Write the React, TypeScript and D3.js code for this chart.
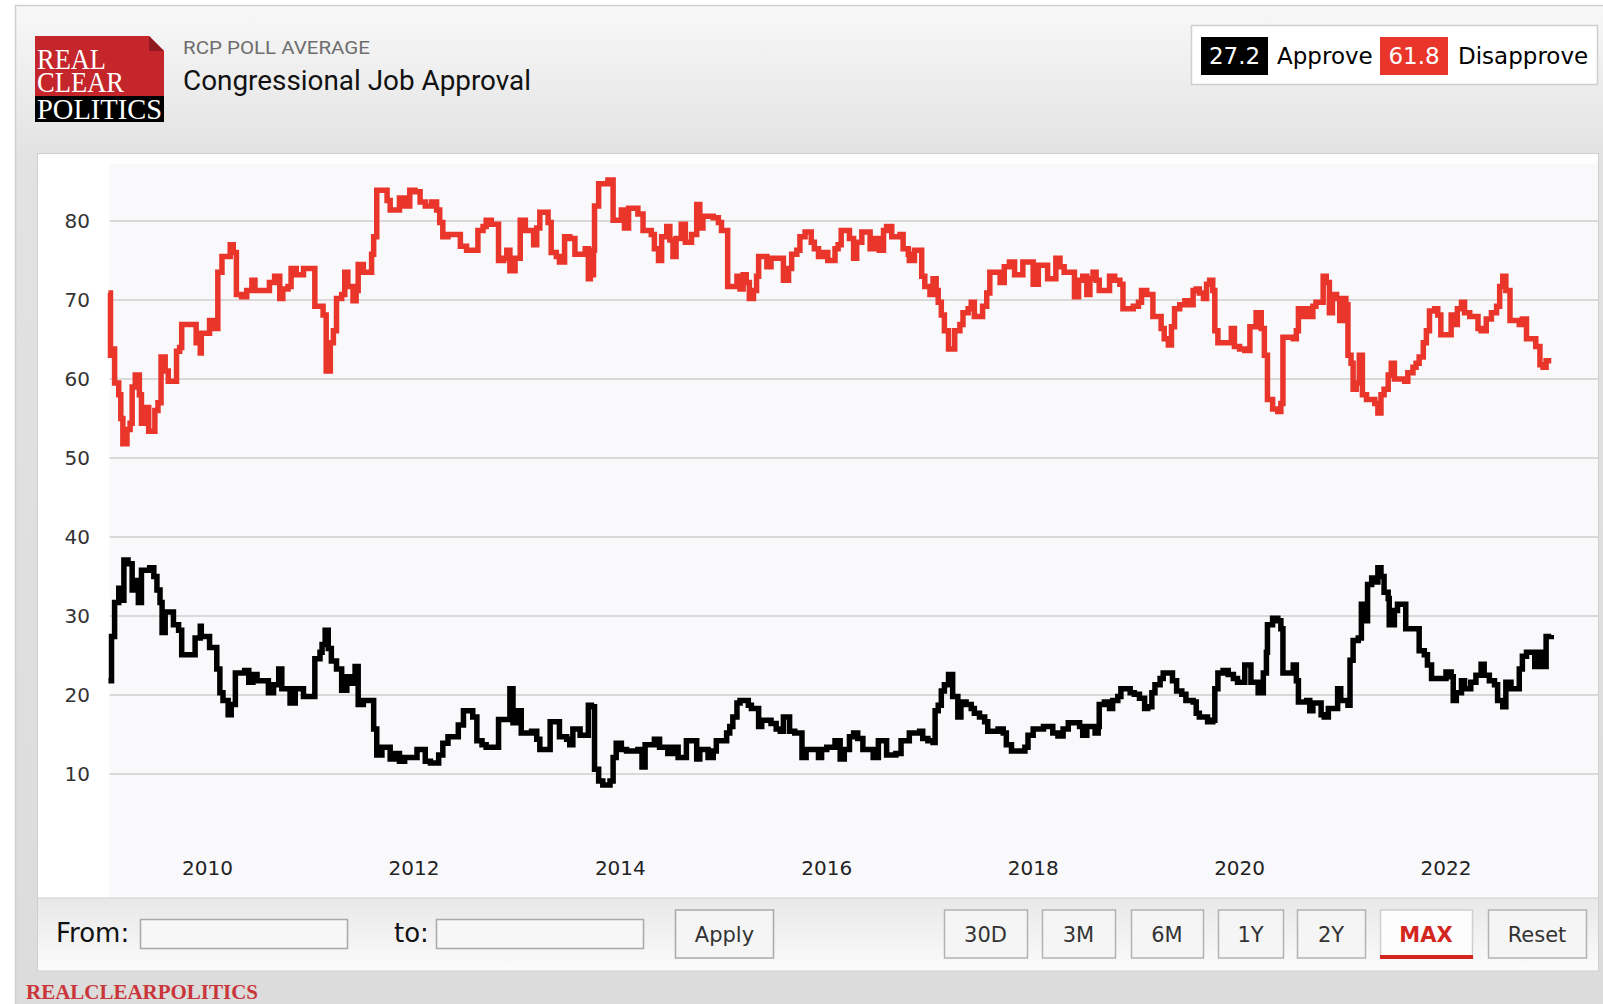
import * as d3 from 'd3';

// RCP poll average, Congressional job approval (decimal year, percent)
const disapproveDates = [
  2009.04, 2009.06, 2009.08, 2009.1, 2009.14, 2009.16, 2009.18, 2009.22, 2009.25, 2009.27, 2009.3, 2009.34, 2009.36,
  2009.41, 2009.43, 2009.49, 2009.52, 2009.55, 2009.59, 2009.62, 2009.7, 2009.73, 2009.75, 2009.89, 2009.93, 2009.94,
  2010.02, 2010.07, 2010.1, 2010.14, 2010.22, 2010.25, 2010.28, 2010.33, 2010.38, 2010.43, 2010.46, 2010.49, 2010.6,
  2010.65, 2010.7, 2010.73, 2010.78, 2010.81, 2010.86, 2010.93, 2011.04, 2011.12, 2011.15, 2011.19, 2011.22, 2011.25,
  2011.3, 2011.33, 2011.36, 2011.41, 2011.44, 2011.46, 2011.51, 2011.59, 2011.61, 2011.64, 2011.74, 2011.77, 2011.86,
  2011.91, 2011.96, 2012.01, 2012.06, 2012.11, 2012.17, 2012.22, 2012.25, 2012.28, 2012.33, 2012.45, 2012.51, 2012.62,
  2012.67, 2012.7, 2012.75, 2012.82, 2012.87, 2012.9, 2012.93, 2012.98, 2013.03, 2013.08, 2013.16, 2013.19, 2013.22,
  2013.3, 2013.33, 2013.38, 2013.41, 2013.46, 2013.51, 2013.56, 2013.66, 2013.69, 2013.71, 2013.74, 2013.75, 2013.79,
  2013.88, 2013.93, 2014.01, 2014.04, 2014.08, 2014.17, 2014.22, 2014.3, 2014.33, 2014.37, 2014.4, 2014.45, 2014.48,
  2014.51, 2014.54, 2014.59, 2014.63, 2014.69, 2014.74, 2014.77, 2014.8, 2014.9, 2014.95, 2014.98, 2015.04, 2015.13,
  2015.16, 2015.19, 2015.22, 2015.25, 2015.29, 2015.32, 2015.34, 2015.42, 2015.46, 2015.58, 2015.63, 2015.66, 2015.71,
  2015.74, 2015.79, 2015.85, 2015.88, 2015.92, 2015.96, 2016.01, 2016.08, 2016.11, 2016.14, 2016.22, 2016.26, 2016.29,
  2016.34, 2016.42, 2016.47, 2016.51, 2016.55, 2016.58, 2016.63, 2016.71, 2016.74, 2016.79, 2016.8, 2016.85, 2016.92,
  2016.95, 2017.0, 2017.03, 2017.06, 2017.08, 2017.11, 2017.14, 2017.18, 2017.24, 2017.29, 2017.32, 2017.37, 2017.4,
  2017.43, 2017.51, 2017.55, 2017.58, 2017.68, 2017.72, 2017.77, 2017.82, 2017.9, 2018.0, 2018.05, 2018.14, 2018.22,
  2018.26, 2018.3, 2018.4, 2018.44, 2018.48, 2018.52, 2018.55, 2018.58, 2018.61, 2018.64, 2018.74, 2018.79, 2018.84,
  2018.87, 2018.97, 2019.02, 2019.05, 2019.1, 2019.16, 2019.24, 2019.27, 2019.31, 2019.34, 2019.37, 2019.42, 2019.47,
  2019.52, 2019.55, 2019.58, 2019.61, 2019.65, 2019.68, 2019.71, 2019.74, 2019.76, 2019.79, 2019.92, 2019.95, 2020.0,
  2020.05, 2020.1, 2020.16, 2020.21, 2020.24, 2020.27, 2020.32, 2020.37, 2020.4, 2020.42, 2020.52, 2020.55, 2020.57,
  2020.61, 2020.65, 2020.68, 2020.71, 2020.74, 2020.81, 2020.84, 2020.87, 2020.9, 2020.94, 2020.97, 2021.0, 2021.03,
  2021.05, 2021.08, 2021.1, 2021.13, 2021.16, 2021.19, 2021.23, 2021.31, 2021.34, 2021.37, 2021.4, 2021.44, 2021.47,
  2021.5, 2021.6, 2021.63, 2021.68, 2021.71, 2021.74, 2021.78, 2021.81, 2021.84, 2021.89, 2021.92, 2021.95, 2022.05,
  2022.08, 2022.11, 2022.15, 2022.18, 2022.23, 2022.31, 2022.34, 2022.39, 2022.44, 2022.49, 2022.52, 2022.55, 2022.58,
  2022.62, 2022.71, 2022.74, 2022.78, 2022.87, 2022.91, 2022.94, 2022.97, 2023.02,
];
const disapproveValues = [
  70.9, 63.0, 63.8, 59.5, 58.0, 55.0, 51.8, 53.6, 54.4, 59.0, 60.5, 58.0, 54.4,
  56.4, 53.4, 56.0, 57.0, 62.8, 61.0, 59.7, 63.5, 64.0, 66.9, 64.6, 63.3, 65.8,
  67.4, 66.4, 73.5, 75.5, 77.0, 76.0, 70.7, 70.4, 71.2, 72.5, 71.2, 71.2, 72.2,
  73.0, 70.2, 71.4, 71.7, 74.0, 73.2, 74.0, 69.2, 68.1, 61.0, 64.6, 66.1, 70.2,
  70.7, 73.5, 71.7, 69.9, 71.2, 74.5, 73.5, 75.8, 78.0, 83.9, 82.6, 81.4, 82.9,
  81.9, 83.9, 83.7, 82.4, 81.9, 82.4, 81.4, 79.8, 78.0, 78.3, 76.8, 76.3, 78.8,
  79.3, 80.1, 79.6, 75.0, 75.3, 76.3, 73.7, 75.3, 80.1, 78.8, 77.0, 79.1, 81.1,
  79.8, 76.0, 75.5, 74.8, 78.0, 77.8, 75.8, 76.5, 72.7, 73.2, 76.3, 81.9, 84.7,
  85.2, 80.1, 81.4, 79.1, 81.6, 80.9, 78.8, 78.3, 76.5, 75.0, 78.0, 79.3, 77.6,
  75.5, 77.8, 79.6, 77.3, 78.3, 82.1, 79.1, 80.6, 80.4, 79.8, 78.8, 71.7, 73.0,
  71.4, 73.2, 72.2, 70.2, 71.2, 73.0, 75.5, 74.2, 75.3, 72.5, 74.0, 75.8, 76.3,
  78.0, 78.6, 77.3, 76.5, 75.5, 76.0, 75.0, 76.5, 77.0, 78.8, 77.8, 75.3, 77.3,
  78.6, 76.5, 77.8, 76.3, 78.8, 79.3, 78.0, 78.3, 76.5, 75.8, 75.0, 76.3, 73.0,
  71.7, 70.7, 72.7, 71.2, 69.7, 68.1, 66.1, 63.8, 66.1, 66.9, 68.4, 68.9, 69.7,
  67.9, 69.2, 70.9, 73.5, 72.2, 74.2, 74.8, 73.2, 74.8, 72.0, 74.4, 72.7, 75.3,
  74.2, 73.5, 70.4, 72.5, 73.0, 70.7, 72.7, 73.5, 72.5, 71.2, 73.0, 72.5, 72.0,
  68.9, 69.2, 69.7, 71.2, 70.7, 67.9, 66.4, 65.1, 64.3, 66.6, 68.9, 69.4, 69.9,
  69.4, 71.2, 71.4, 70.9, 70.2, 72.0, 72.5, 71.2, 66.1, 64.6, 66.4, 64.1, 63.8,
  63.6, 66.6, 68.4, 66.4, 63.0, 57.4, 56.2, 55.9, 56.9, 65.3, 65.1, 66.1, 68.9,
  67.9, 68.9, 67.9, 69.2, 69.7, 73.0, 72.2, 68.4, 70.7, 70.2, 67.4, 70.2, 69.4,
  63.0, 62.0, 58.7, 59.5, 63.0, 58.0, 57.4, 56.9, 55.7, 58.0, 58.7, 60.5, 62.0,
  60.0, 59.7, 60.8, 61.5, 62.0, 62.8, 64.6, 66.1, 68.6, 68.9, 68.1, 65.6, 68.1,
  66.9, 68.9, 69.7, 68.4, 67.9, 66.4, 66.1, 67.6, 68.4, 69.2, 71.7, 73.0, 71.2,
  67.4, 66.9, 67.6, 65.1, 64.1, 61.8, 61.5, 62.3, 62.3,
];

const approveDates = [
  2009.04, 2009.07, 2009.1, 2009.14, 2009.17, 2009.19, 2009.23, 2009.27, 2009.3, 2009.33, 2009.36, 2009.44, 2009.48,
  2009.51, 2009.54, 2009.56, 2009.59, 2009.67, 2009.72, 2009.75, 2009.88, 2009.93, 2009.94, 2010.02, 2010.09, 2010.12,
  2010.15, 2010.2, 2010.23, 2010.27, 2010.36, 2010.4, 2010.44, 2010.48, 2010.59, 2010.64, 2010.69, 2010.72, 2010.8,
  2010.85, 2010.93, 2011.04, 2011.09, 2011.11, 2011.14, 2011.17, 2011.2, 2011.25, 2011.3, 2011.35, 2011.38, 2011.43,
  2011.46, 2011.51, 2011.61, 2011.64, 2011.69, 2011.77, 2011.82, 2011.86, 2011.91, 2012.03, 2012.11, 2012.16, 2012.24,
  2012.28, 2012.33, 2012.43, 2012.48, 2012.57, 2012.61, 2012.66, 2012.7, 2012.82, 2012.93, 2012.96, 2012.99, 2013.04,
  2013.14, 2013.19, 2013.22, 2013.32, 2013.41, 2013.48, 2013.51, 2013.54, 2013.61, 2013.69, 2013.72, 2013.75, 2013.79,
  2013.83, 2013.9, 2013.93, 2013.96, 2014.01, 2014.06, 2014.17, 2014.21, 2014.24, 2014.33, 2014.38, 2014.46, 2014.51,
  2014.56, 2014.64, 2014.74, 2014.77, 2014.85, 2014.9, 2014.93, 2015.03, 2015.06, 2015.09, 2015.13, 2015.16, 2015.24,
  2015.27, 2015.34, 2015.37, 2015.46, 2015.51, 2015.55, 2015.58, 2015.64, 2015.69, 2015.76, 2015.8, 2015.92, 2015.95,
  2016.0, 2016.08, 2016.13, 2016.17, 2016.22, 2016.26, 2016.3, 2016.35, 2016.45, 2016.5, 2016.58, 2016.67, 2016.72,
  2016.8, 2016.9, 2016.93, 2016.98, 2017.03, 2017.05, 2017.08, 2017.11, 2017.14, 2017.18, 2017.22, 2017.27, 2017.3,
  2017.35, 2017.4, 2017.43, 2017.48, 2017.53, 2017.56, 2017.66, 2017.71, 2017.74, 2017.79, 2017.92, 2017.95, 2018.0,
  2018.1, 2018.19, 2018.24, 2018.29, 2018.34, 2018.45, 2018.48, 2018.52, 2018.6, 2018.63, 2018.64, 2018.69, 2018.74,
  2018.77, 2018.82, 2018.85, 2018.94, 2018.98, 2019.03, 2019.08, 2019.11, 2019.15, 2019.18, 2019.23, 2019.26, 2019.35,
  2019.39, 2019.44, 2019.48, 2019.55, 2019.58, 2019.61, 2019.69, 2019.74, 2019.76, 2019.79, 2019.84, 2019.89, 2019.94,
  2019.98, 2020.05, 2020.11, 2020.18, 2020.23, 2020.26, 2020.27, 2020.32, 2020.37, 2020.4, 2020.42, 2020.52, 2020.55,
  2020.57, 2020.65, 2020.68, 2020.71, 2020.79, 2020.82, 2020.86, 2020.95, 2020.98, 2021.05, 2021.07, 2021.1, 2021.15,
  2021.18, 2021.21, 2021.24, 2021.28, 2021.32, 2021.34, 2021.37, 2021.4, 2021.44, 2021.45, 2021.5, 2021.53, 2021.61,
  2021.74, 2021.79, 2021.82, 2021.86, 2022.0, 2022.05, 2022.07, 2022.1, 2022.15, 2022.18, 2022.24, 2022.29, 2022.34,
  2022.37, 2022.42, 2022.47, 2022.5, 2022.55, 2022.58, 2022.63, 2022.71, 2022.74, 2022.78, 2022.86, 2022.89, 2022.92,
  2022.97, 2023.02,
];
const approveValues = [
  21.8, 27.4, 31.7, 33.5, 32.0, 37.1, 36.6, 33.3, 34.5, 31.7, 35.8, 36.1, 35.0,
  33.3, 31.7, 27.9, 30.5, 28.9, 28.2, 25.1, 27.2, 28.7, 27.4, 26.0, 23.3, 20.3,
  19.3, 17.5, 18.8, 22.8, 23.1, 21.6, 22.6, 21.8, 20.3, 21.3, 23.3, 20.8, 19.0,
  20.8, 19.8, 24.6, 25.4, 26.4, 28.2, 25.9, 24.3, 23.3, 20.6, 22.3, 21.5, 23.6,
  18.8, 19.3, 15.7, 12.4, 13.4, 11.9, 12.6, 11.6, 12.1, 13.1, 11.6, 11.4, 12.4,
  13.9, 14.7, 16.2, 18.0, 17.2, 14.2, 13.7, 13.4, 16.9, 20.8, 16.5, 18.0, 15.2,
  15.4, 14.4, 13.1, 16.6, 14.7, 14.4, 13.7, 15.7, 14.9, 18.7, 18.5, 10.6, 9.1,
  8.6, 9.1, 12.1, 13.9, 13.1, 12.9, 13.1, 10.9, 13.7, 14.4, 13.4, 12.6, 13.4,
  12.1, 14.2, 11.9, 13.1, 12.1, 12.9, 14.2, 15.2, 16.0, 17.2, 19.0, 19.3, 18.7,
  18.3, 16.0, 16.8, 16.4, 15.7, 15.4, 17.2, 15.4, 15.2, 12.1, 13.1, 12.1, 13.1,
  13.4, 14.2, 11.9, 13.1, 14.7, 15.2, 14.5, 13.1, 12.1, 14.2, 12.4, 12.6, 14.2,
  15.2, 15.4, 14.5, 14.2, 14.0, 18.0, 18.7, 20.5, 21.3, 22.6, 19.8, 17.2, 19.1,
  18.8, 18.3, 17.7, 17.2, 16.6, 15.4, 15.7, 15.2, 13.7, 12.9, 13.4, 14.9, 15.7,
  16.0, 15.2, 14.8, 15.7, 16.5, 16.0, 14.9, 16.0, 15.2, 16.0, 18.8, 19.1, 18.3,
  19.3, 19.8, 20.8, 20.3, 20.1, 19.6, 18.3, 18.5, 20.3, 21.3, 22.1, 22.8, 21.8,
  20.5, 20.1, 19.3, 19.1, 17.7, 17.2, 16.6, 16.8, 20.8, 22.8, 23.1, 22.6, 22.1,
  21.6, 23.8, 21.6, 20.3, 22.8, 25.4, 28.9, 29.7, 29.4, 28.4, 22.8, 23.8, 21.8,
  19.1, 19.3, 18.0, 19.0, 17.5, 17.2, 18.3, 20.8, 19.3, 18.7, 24.4, 26.9, 27.2,
  31.5, 29.4, 34.0, 34.8, 34.3, 36.1, 35.0, 33.0, 32.2, 28.9, 30.7, 31.5, 28.4,
  25.6, 25.1, 23.8, 22.1, 22.9, 22.3, 19.3, 20.3, 21.8, 20.8, 21.6, 22.5, 23.9,
  22.5, 21.8, 21.3, 19.3, 18.5, 21.6, 20.8, 23.3, 24.9, 25.4, 23.6, 25.4, 23.6,
  27.4, 27.6,
];

const yTicks = [10, 20, 30, 40, 50, 60, 70, 80];
const xTicks = [2010, 2012, 2014, 2016, 2018, 2020, 2022];
const latestApprove = '27.2';
const latestDisapprove = '61.8';
const rangeButtons = ['30D', '3M', '6M', '1Y', '2Y', 'MAX', 'Reset'];
const activeRange = 'MAX';

// layout of the page chrome (pixels)
const W = 1603;
const H = 1004;
const chartBox = { x: 37, y: 153, w: 1561, h: 745 };
const plot = { left: 109.5, top: 163.5, right: 1598 };
const bar = { y: 898, h: 73 };
const buttonBoxes = [
  { x: 944, w: 83 },
  { x: 1042, w: 73 },
  { x: 1131, w: 72 },
  { x: 1218, w: 65 },
  { x: 1297, w: 68 },
  { x: 1380, w: 92 },
  { x: 1488, w: 98 },
];

const RED = '#e9352a';

export default function App() {
  const x = d3.scaleLinear().domain([2010, 2022]).range([207.5, 1446]);
  const y = d3.scaleLinear().domain([10, 80]).range([774, 221]);

  const line = d3
    .line<[number, number]>()
    .x((d) => x(d[0]))
    .y((d) => y(d[1]))
    .curve(d3.curveStepAfter);

  const approve = approveDates.map((d, i) => [d, approveValues[i]] as [number, number]);
  const disapprove = disapproveDates.map((d, i) => [d, disapproveValues[i]] as [number, number]);

  const btnY = 910;
  const btnH = 48;

  return (
    <svg
      width={W}
      height={H}
      style={{ position: 'absolute', left: 0, top: 0 }}
      fontFamily="'DejaVu Sans', Verdana, sans-serif"
    >
      <defs>
        <linearGradient id="panelGrad" gradientUnits="userSpaceOnUse" x1={0} y1={5} x2={0} y2={H}>
          <stop offset="0" stopColor="#f8f8f8" />
          <stop offset="0.155" stopColor="#e2e2e2" />
          <stop offset="1" stopColor="#dcdcdc" />
        </linearGradient>
        <linearGradient id="barGrad" x1="0" y1="0" x2="0" y2="1">
          <stop offset="0" stopColor="#e8e8e8" />
          <stop offset="1" stopColor="#fbfbfb" />
        </linearGradient>
      </defs>

      <rect x={0} y={0} width={W} height={H} fill="#fff" />
      {/* outer panel */}
      <rect x={15.5} y={5.5} width={W} height={H} fill="url(#panelGrad)" stroke="#cfcfcf" strokeWidth={1.5} />

      {/* logo: one text block, three stacked words stretched to the box */}
      <g>
        <polygon points="35,36 149,36 164,51 164,96 35,96" fill="#c4262b" />
        <polygon points="149,36 164,51 149,51" fill="#8f1a1d" />
        <rect x={35} y={96} width={129} height={26} fill="#000" />
        <text fontFamily="'Liberation Serif', 'Times New Roman', serif" fill="#fff" fontSize={29}>
          <tspan x={37} y={69} textLength={69} lengthAdjust="spacingAndGlyphs">REAL</tspan>
          <tspan x={37} y={92} textLength={87} lengthAdjust="spacingAndGlyphs">CLEAR</tspan>
          <tspan x={37} y={119} textLength={125} lengthAdjust="spacingAndGlyphs">POLITICS</tspan>
        </text>
      </g>

      {/* titles */}
      <text x={183} y={54} fontFamily="Roboto, sans-serif" fontSize={19} fill="#6e6e6e" textLength={187} lengthAdjust="spacingAndGlyphs">
        RCP POLL AVERAGE
      </text>
      <text x={183} y={90} fontFamily="Roboto, sans-serif" fontSize={28} fill="#111" textLength={348} lengthAdjust="spacingAndGlyphs">
        Congressional Job Approval
      </text>

      {/* latest values legend */}
      <g fontSize={23}>
        <rect x={1191.5} y={25.5} width={406} height={59} fill="#fff" stroke="#cfcfcf" strokeWidth={1.5} />
        <rect x={1201} y={37} width={67} height={38} fill="#000" />
        <text x={1234.5} y={64} textAnchor="middle" fill="#fff">{latestApprove}</text>
        <text x={1277} y={64} fill="#000">Approve</text>
        <rect x={1380} y={37} width={68} height={38} fill={RED} />
        <text x={1414} y={64} textAnchor="middle" fill="#fff">{latestDisapprove}</text>
        <text x={1458} y={64} fill="#000">Disapprove</text>
      </g>

      {/* chart box */}
      <rect x={chartBox.x + 0.5} y={chartBox.y + 0.5} width={chartBox.w} height={chartBox.h} fill="#fff" stroke="#cfcfcf" />
      <rect
        x={plot.left}
        y={plot.top}
        width={plot.right - plot.left}
        height={chartBox.y + chartBox.h - plot.top}
        fill="#f9f9fc"
      />

      {/* gridlines + y labels */}
      {yTicks.map((v) => (
        <g key={v}>
          <line x1={plot.left} x2={plot.right} y1={y(v)} y2={y(v)} stroke="#d9d9d9" strokeWidth={2} />
          <text x={90} y={y(v) + 7} textAnchor="end" fontSize={20} fill="#333">
            {v}
          </text>
        </g>
      ))}

      {/* x labels */}
      {xTicks.map((t) => (
        <text key={t} x={x(t)} y={875} textAnchor="middle" fontSize={20} fill="#222">
          {t}
        </text>
      ))}

      {/* series */}
      <path d={line(approve) ?? undefined} fill="none" stroke="#000" strokeWidth={5.5} />
      <path d={line(disapprove) ?? undefined} fill="none" stroke={RED} strokeWidth={5.5} />

      {/* control bar */}
      <rect x={chartBox.x + 0.5} y={bar.y} width={chartBox.w} height={bar.h} fill="url(#barGrad)" stroke="#cfcfcf" />
      <text x={56} y={942} fontSize={26} fill="#111">From:</text>
      <rect x={140.5} y={919.5} width={207} height={29} fill="#f7f7f7" stroke="#a9a9a9" strokeWidth={1.5} />
      <text x={394} y={942} fontSize={26} fill="#111">to:</text>
      <rect x={436.5} y={919.5} width={207} height={29} fill="#f7f7f7" stroke="#a9a9a9" strokeWidth={1.5} />
      <rect x={675.5} y={btnY} width={98} height={btnH} fill="#f5f5f5" stroke="#a9a9a9" strokeWidth={1.5} />
      <text x={724.5} y={942} textAnchor="middle" fontSize={21} fill="#333">Apply</text>

      {rangeButtons.map((label, i) => {
        const b = buttonBoxes[i];
        const active = label === activeRange;
        return (
          <g key={label}>
            <rect
              x={b.x + 0.5}
              y={btnY}
              width={b.w}
              height={btnH}
              fill={active ? '#fdfdfd' : '#f5f5f5'}
              stroke={active ? '#cfcfcf' : '#b3b3b3'}
              strokeWidth={1.5}
            />
            {active && <rect x={b.x} y={btnY + btnH - 3} width={b.w + 1} height={4} fill="#d3261e" />}
            <text
              x={b.x + b.w / 2}
              y={942}
              textAnchor="middle"
              fontSize={21}
              fontWeight={active ? 'bold' : 'normal'}
              fill={active ? '#d3261e' : '#333'}
            >
              {label}
            </text>
          </g>
        );
      })}

      {/* footer credit */}
      <text
        x={26}
        y={999}
        fontFamily="'Liberation Serif', 'Times New Roman', serif"
        fontWeight="bold"
        fontSize={22}
        fill="#c8363a"
        textLength={232}
        lengthAdjust="spacingAndGlyphs"
      >
        REALCLEARPOLITICS
      </text>
    </svg>
  );
}
